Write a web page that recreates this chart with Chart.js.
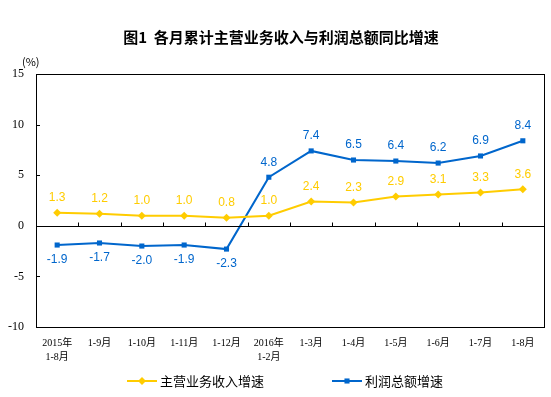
<!DOCTYPE html>
<html>
<head>
<meta charset="utf-8">
<script src="https://cdn.jsdelivr.net/npm/chart.js@4/dist/chart.umd.min.js"></script>
<style>
  body { margin: 0; background: #fff; }
</style>
</head>
<body>
<canvas id="line-chart" width="551" height="397"></canvas>
<script>
// categories and series
const months = [
    ['2015年', '1-8月'], '1-9月', '1-10月', '1-11月', '1-12月',
    ['2016年', '1-2月'], '1-3月', '1-4月', '1-5月', '1-6月', '1-7月', '1-8月'
];
const revenueGrowth = [1.3, 1.2, 1.0, 1.0, 0.8, 1.0, 2.4, 2.3, 2.9, 3.1, 3.3, 3.6];
const profitGrowth = [-1.9, -1.7, -2.0, -1.9, -2.3, 4.8, 7.4, 6.5, 6.4, 6.2, 6.9, 8.4];
const yTicks = [-10, -5, 0, 5, 10, 15];

const YELLOW = '#FFCC00';
const BLUE = '#0066CC';
const CJK = '"Noto Sans CJK SC", "DejaVu Sans", sans-serif';

// frame, inner ticks, value labels, title and legend
const decorations = {
    id: 'decorations',
    afterDraw(chart) {
        const ctx = chart.ctx;
        const area = chart.chartArea;
        const y = chart.scales.y;

        ctx.save();
        ctx.strokeStyle = '#000';
        ctx.lineWidth = 1;
        ctx.strokeRect(Math.round(area.left) + 0.5, Math.round(area.top) + 0.5,
            Math.round(area.right - area.left), Math.round(area.bottom - area.top));

        // zero line with upward ticks between categories
        const zeroY = Math.round(y.getPixelForValue(0)) + 0.5;
        ctx.beginPath();
        ctx.moveTo(area.left, zeroY);
        ctx.lineTo(area.right, zeroY);
        const step = (area.right - area.left) / months.length;
        for (let i = 1; i < months.length; i++) {
            const tx = Math.round(area.left + i * step) + 0.5;
            ctx.moveTo(tx, zeroY);
            ctx.lineTo(tx, zeroY - 4);
        }
        // inward ticks on the y axis
        yTicks.forEach(v => {
            const ty = Math.round(y.getPixelForValue(v)) + 0.5;
            ctx.moveTo(area.left, ty);
            ctx.lineTo(area.left + 4, ty);
        });
        ctx.stroke();

        // value labels
        ctx.font = '12px "Liberation Sans", Arial, sans-serif';
        ctx.textAlign = 'center';
        ctx.textBaseline = 'middle';
        chart.data.datasets.forEach((ds, di) => {
            const meta = chart.getDatasetMeta(di);
            ctx.fillStyle = ds.borderColor;
            meta.data.forEach((pt, i) => {
                const v = ds.data[i];
                const dy = v < 0 && di === 1 ? 15 : -15;
                ctx.fillText(v.toFixed(1), pt.x, pt.y + dy);
            });
        });

        // title
        ctx.fillStyle = '#000';
        ctx.font = 'bold 15px ' + CJK;
        ctx.fillText('图1  各月累计主营业务收入与利润总额同比增速', 281, 37);

        // unit
        ctx.font = '11px ' + CJK;
        ctx.textAlign = 'left';
        ctx.fillText('(%)', 22, 62);

        // legend
        const items = [
            { ds: chart.data.datasets[0], x: 127 },
            { ds: chart.data.datasets[1], x: 332 }
        ];
        const ly = 381;
        items.forEach(it => {
            ctx.strokeStyle = it.ds.borderColor;
            ctx.fillStyle = it.ds.borderColor;
            ctx.lineWidth = 2;
            ctx.beginPath();
            ctx.moveTo(it.x, ly);
            ctx.lineTo(it.x + 30, ly);
            ctx.stroke();
            Chart.helpers.drawPoint(ctx, {
                pointStyle: it.ds.pointStyle,
                radius: it.ds.pointRadius,
                borderWidth: 0
            }, it.x + 15, ly);
            ctx.fillStyle = '#000';
            ctx.font = '13px ' + CJK;
            ctx.textAlign = 'left';
            ctx.fillText(it.ds.label, it.x + 33, ly);
        });
        ctx.restore();
    }
};

new Chart(document.getElementById('line-chart'), {
    type: 'line',
    data: {
        labels: months,
        datasets: [{
            label: '主营业务收入增速',
            data: revenueGrowth,
            borderColor: YELLOW,
            backgroundColor: YELLOW,
            borderWidth: 2,
            pointStyle: 'rectRot',
            pointRadius: 4,
            pointBorderWidth: 0,
            tension: 0,
            fill: false
        }, {
            label: '利润总额增速',
            data: profitGrowth,
            borderColor: BLUE,
            backgroundColor: BLUE,
            borderWidth: 2,
            pointStyle: 'rect',
            pointRadius: 3.6,
            pointBorderWidth: 0,
            tension: 0,
            fill: false
        }]
    },
    options: {
        responsive: false,
        animation: false,
        layout: { padding: { left: 0, right: 7, top: 74, bottom: 36 } },
        plugins: {
            legend: { display: false },
            tooltip: { enabled: false },
            title: { display: false }
        },
        scales: {
            x: {
                offset: true,
                grid: { display: false, drawTicks: false },
                border: { display: false },
                afterFit(scale) { scale.height = 34; },
                ticks: {
                    color: '#000',
                    autoSkip: false,
                    maxRotation: 0,
                    padding: 9,
                    font: { family: '"Liberation Serif", "Noto Sans CJK SC", serif', size: 10, lineHeight: 1.4 }
                }
            },
            y: {
                min: -10,
                max: 15,
                grid: { display: false, drawTicks: false },
                border: { display: false },
                afterFit(scale) { scale.width = 36; },
                afterBuildTicks(scale) { scale.ticks = yTicks.map(v => ({ value: v })); },
                ticks: {
                    color: '#000',
                    padding: 12,
                    font: { family: '"Liberation Serif", serif', size: 12 }
                }
            }
        }
    },
    plugins: [decorations]
});
</script>
</body>
</html>
